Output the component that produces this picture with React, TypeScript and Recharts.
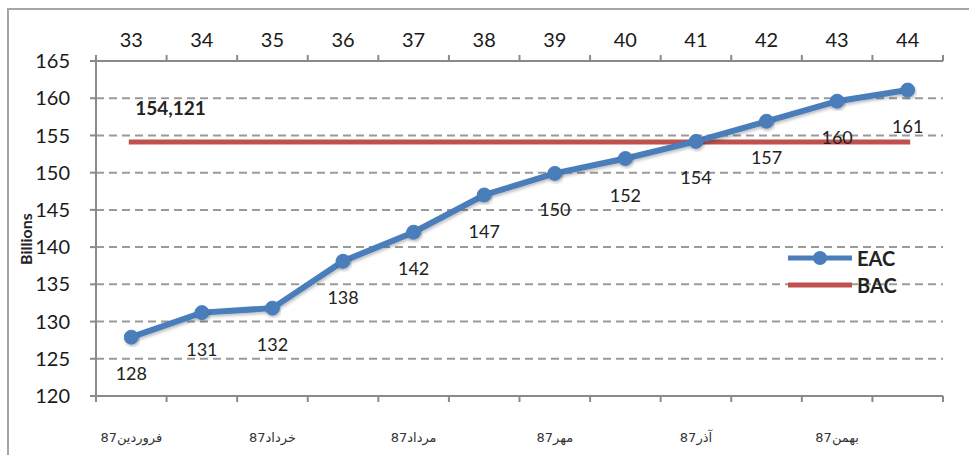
import { LineChart, Line, XAxis, YAxis, CartesianGrid, Legend, LabelList } from "recharts";

const periods = [33, 34, 35, 36, 37, 38, 39, 40, 41, 42, 43, 44];
const eacValues = [127.9, 131.2, 131.8, 138.1, 142.0, 147.0, 149.9, 151.9, 154.2, 156.9, 159.6, 161.1];
const bacValue = 154.121;
const monthTicks = [33, 35, 37, 39, 41, 43];
const monthNames = ["فروردین87", "خرداد87", "مرداد87", "مهر87", "آذر87", "بهمن87"];
const yTicks = [120, 125, 130, 135, 140, 145, 150, 155, 160, 165];

const EAC_COLOR = "#4a7ebb";
const BAC_COLOR = "#c0504d";
const AXIS_COLOR = "#8a8a8a";
const FONT = "Lato, 'Noto Sans', sans-serif";

const data = periods.map((p, i) => ({ period: p, eac: eacValues[i], bac: bacValue }));

// boundaries between periods get a tick mark, centers get the label
const boundaryTicks = [...periods.map((p) => p - 0.5), periods[periods.length - 1] + 0.5];
const allTicks = [...boundaryTicks, ...periods].sort((a, b) => a - b);

const isBoundary = (v: number) => Math.abs(v - Math.round(v)) > 0.1;

function TopTick(props: any) {
  const { x, y, payload } = props;
  const v = payload.value;
  if (isBoundary(v)) {
    return <line x1={x} x2={x} y1={y - 6} y2={y} stroke={AXIS_COLOR} strokeWidth={2} />;
  }
  return (
    <text x={x} y={y - 14} textAnchor="middle" fontFamily={FONT} fontSize={20} fill="#1a1a1a">
      {v}
    </text>
  );
}

function BottomTick(props: any) {
  const { x, y, payload } = props;
  const v = payload.value;
  if (isBoundary(v)) {
    return <line x1={x} x2={x} y1={y} y2={y + 6} stroke={AXIS_COLOR} strokeWidth={2} />;
  }
  const idx = monthTicks.indexOf(v);
  if (idx < 0) return <g />;
  return (
    <text x={x} y={y + 46} textAnchor="middle" fontFamily="'DejaVu Sans', sans-serif" fontSize={13} fill="#333">
      {monthNames[idx]}
    </text>
  );
}

function EacLabel(props: any) {
  const { x, y, value } = props;
  return (
    <text x={x} y={y + 43} textAnchor="middle" fontFamily={FONT} fontSize={18} fill="#222">
      {Math.round(value)}
    </text>
  );
}

function BacLabel(props: any) {
  const { x, y, value, index } = props;
  if (index !== 0) return null;
  return (
    <text x={x + 4} y={y - 27} fontFamily={FONT} fontWeight={700} fontSize={19} fill="#222">
      {Number(value).toFixed(3).replace(".", ",")}
    </text>
  );
}

function renderLegend() {
  return (
    <div style={{ fontFamily: FONT, fontWeight: 700, fontSize: 20, color: "#222" }}>
      <div style={{ display: "flex", alignItems: "center", height: 27 }}>
        <svg width={68} height={16}>
          <line x1={2} y1={8} x2={66} y2={8} stroke={EAC_COLOR} strokeWidth={5} />
          <circle cx={34} cy={8} r={7} fill={EAC_COLOR} />
        </svg>
        <span style={{ marginLeft: 3 }}>EAC</span>
      </div>
      <div style={{ display: "flex", alignItems: "center", height: 27 }}>
        <svg width={68} height={16}>
          <line x1={2} y1={8} x2={66} y2={8} stroke={BAC_COLOR} strokeWidth={5} />
        </svg>
        <span style={{ marginLeft: 3 }}>BAC</span>
      </div>
    </div>
  );
}

export default function App() {
  return (
    <div style={{ position: "absolute", left: 0, top: 0, width: 969, height: 455, background: "#fff", overflow: "hidden" }}>
      <div
        style={{
          position: "absolute",
          left: 7,
          top: 8,
          width: 1000,
          height: 500,
          borderLeft: "2px solid #a6a6a6",
          borderTop: "2px solid #a6a6a6",
        }}
      />
      <LineChart width={969} height={455} data={data} margin={{ top: 0, right: 26, bottom: 0, left: 0 }}>
        <defs>
          <filter id="eacShadow" x="-10%" y="-10%" width="120%" height="130%">
            <feDropShadow dx="1" dy="2" stdDeviation="1.5" floodColor="#000" floodOpacity="0.25" />
          </filter>
        </defs>
        <CartesianGrid vertical={false} stroke="#9a9a9a" strokeWidth={2} strokeDasharray="8 5" />
        <XAxis
          xAxisId="top"
          orientation="top"
          type="number"
          dataKey="period"
          domain={[32.5, 44.5]}
          ticks={allTicks}
          interval={0}
          height={61}
          tickSize={0}
          tickMargin={0}
          tickLine={false}
          axisLine={{ stroke: AXIS_COLOR, strokeWidth: 2 }}
          tick={<TopTick />}
        />
        <XAxis
          type="number"
          dataKey="period"
          domain={[32.5, 44.5]}
          ticks={allTicks}
          interval={0}
          height={59}
          tickSize={0}
          tickMargin={0}
          tickLine={false}
          axisLine={{ stroke: AXIS_COLOR, strokeWidth: 2 }}
          tick={<BottomTick />}
        />
        <YAxis
          domain={[120, 165]}
          ticks={yTicks}
          interval={0}
          width={96}
          tickSize={6}
          tickMargin={20}
          axisLine={{ stroke: AXIS_COLOR, strokeWidth: 2 }}
          tickLine={{ stroke: AXIS_COLOR, strokeWidth: 2 }}
          tick={{ fontFamily: FONT, fontSize: 20, fill: "#1a1a1a" }}
          label={{
            content: () => (
              <text
                x={32}
                y={239}
                transform="rotate(-90 32 239)"
                textAnchor="middle"
                fontFamily={FONT}
                fontWeight={700}
                fontSize={16}
                fill="#222"
              >
                Billions
              </text>
            ),
          }}
        />
        <Line
          type="linear"
          dataKey="bac"
          name="BAC"
          stroke={BAC_COLOR}
          strokeWidth={5}
          strokeLinecap="square"
          dot={false}
          activeDot={false}
          isAnimationActive={false}
        >
          <LabelList dataKey="bac" content={<BacLabel />} />
        </Line>
        <Line
          type="linear"
          dataKey="eac"
          name="EAC"
          stroke={EAC_COLOR}
          strokeWidth={6}
          filter="url(#eacShadow)"
          dot={{ r: 7, fill: EAC_COLOR, stroke: EAC_COLOR, strokeWidth: 1 }}
          activeDot={false}
          isAnimationActive={false}
        >
          <LabelList dataKey="eac" content={<EacLabel />} />
        </Line>
        <Legend
          layout="horizontal"
          align="center"
          verticalAlign="middle"
          content={renderLegend}
          wrapperStyle={{ position: "absolute", left: 786, top: 244, width: "auto" }}
        />
      </LineChart>
    </div>
  );
}
